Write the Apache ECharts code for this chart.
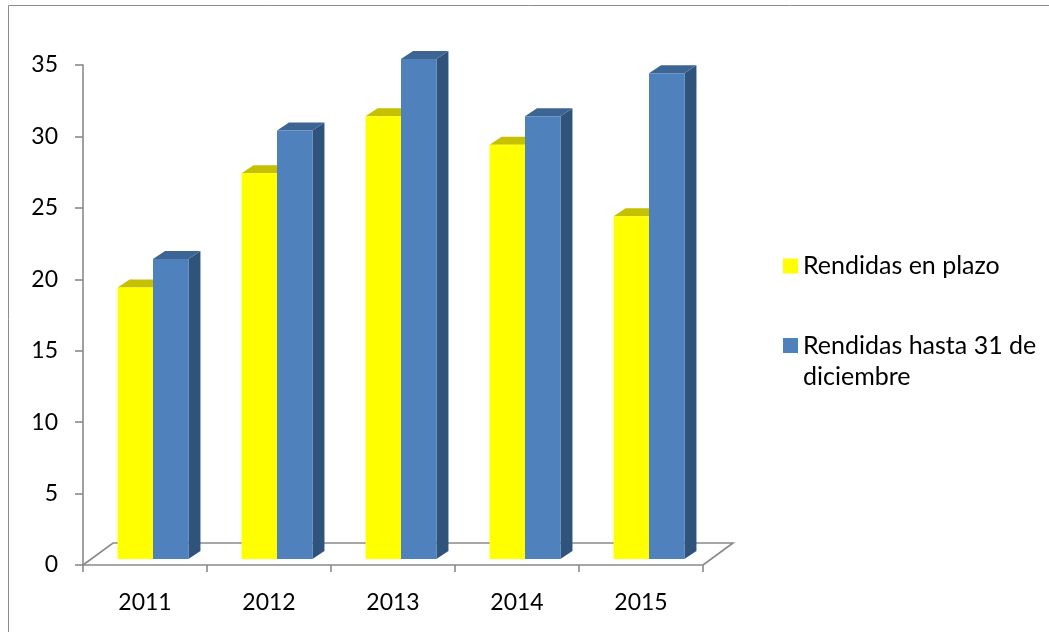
<!DOCTYPE html>
<html>
<head>
<meta charset="utf-8">
<script src="https://cdn.jsdelivr.net/npm/echarts@6/dist/echarts.min.js"></script>
<style>
html,body{margin:0;padding:0;background:#fff;}
#chart{width:1049px;height:632px;}
</style>
</head>
<body>
<div id="chart"></div>
<script>
// ---- data ----
const years = ['2011', '2012', '2013', '2014', '2015'];
const enPlazo = [19, 27, 31, 29, 24];
const hasta31 = [21, 30, 35, 31, 34];
const seriesNames = ['Rendidas en plazo', 'Rendidas hasta 31 de diciembre'];
const yTicks = { min: 0, max: 35, interval: 5 };

// ---- styling ----
const FONT = 'Lato';
const palette = [
  { front: '#FFFF00', top: '#C5C000', side: '#B8B400' },
  { front: '#4F81BD', top: '#3C6594', side: '#30537C' }
];
const FLOOR = { dx: 30, dy: -22 };   // floor depth (pixels)
const BAR_FRONT = { dx: 8, dy: -6 }; // bar front plane offset inside floor
const BAR_DEPTH = { dx: 12, dy: -8 }; // bar depth

function barRenderer(sIdx) {
  return function (params, api) {
    const cat = api.value(0);
    const val = api.value(1);
    const catW = api.size([1, 0])[0];
    const barW = catW * 0.286;
    const b = api.coord([cat, 0]);
    const t = api.coord([cat, val]);
    const x0 = b[0] - barW + sIdx * barW + BAR_FRONT.dx;
    const x1 = x0 + barW;
    const yb = b[1] + BAR_FRONT.dy;
    const yt = t[1] + BAR_FRONT.dy;
    const c = palette[sIdx];
    return {
      type: 'group',
      children: [
        { type: 'polygon', shape: { points: [[x1, yt], [x1, yb], [x1 + BAR_DEPTH.dx, yb + BAR_DEPTH.dy], [x1 + BAR_DEPTH.dx, yt + BAR_DEPTH.dy]] }, style: { fill: c.side } },
        { type: 'polygon', shape: { points: [[x0, yt], [x1, yt], [x1 + BAR_DEPTH.dx, yt + BAR_DEPTH.dy], [x0 + BAR_DEPTH.dx, yt + BAR_DEPTH.dy]] }, style: { fill: c.top } },
        { type: 'rect', shape: { x: x0, y: yt, width: barW, height: yb - yt }, style: { fill: c.front } }
      ]
    };
  };
}

function floorRenderer(params, api) {
  const catW = api.size([1, 0])[0];
  const p = api.coord([0, 0]);
  const left = p[0] - catW / 2;
  const right = left + catW * years.length;
  const y = p[1];
  return {
    type: 'polyline',
    shape: { points: [[left, y], [left + FLOOR.dx, y + FLOOR.dy], [right + FLOOR.dx, y + FLOOR.dy], [right, y]] },
    style: { stroke: '#8A8A8A', lineWidth: 1.6, fill: null }
  };
}

const chart = echarts.init(document.getElementById('chart'));
const legendText = { fontFamily: FONT, fontSize: 25, color: '#000' };
chart.setOption({
  animation: false,
  backgroundColor: '#fff',
  textStyle: { fontFamily: FONT },
  graphic: [{
    type: 'rect', silent: true, z: 100,
    shape: { x: 8.5, y: 5.5, width: 1100, height: 700 },
    style: { fill: null, stroke: '#8C8C8C', lineWidth: 1 }
  }],
  grid: { left: 83, right: 346, top: 65, bottom: 67, containLabel: false },
  legend: [
    {
      data: [seriesNames[0]], left: 778, top: 248, orient: 'vertical',
      icon: 'rect', itemWidth: 15, itemHeight: 15,
      textStyle: Object.assign({ lineHeight: 26 }, legendText)
    },
    {
      data: [seriesNames[1]], left: 778, top: 294, orient: 'vertical',
      icon: 'rect', itemWidth: 15, itemHeight: 15,
      formatter: function () { return ' \nRendidas hasta 31 de\ndiciembre'; },
      textStyle: Object.assign({ lineHeight: 31 }, legendText)
    }
  ],
  xAxis: {
    type: 'category', data: years, boundaryGap: true,
    axisLine: { show: true, lineStyle: { color: '#8A8A8A', width: 1.6 } },
    axisTick: { show: true, length: 7, lineStyle: { color: '#8A8A8A', width: 1.6 } },
    axisLabel: { fontFamily: FONT, fontSize: 23, color: '#000', margin: 26 },
    splitLine: { show: false }
  },
  yAxis: {
    type: 'value', min: yTicks.min, max: yTicks.max, interval: yTicks.interval,
    axisLine: { show: true, lineStyle: { color: '#8A8A8A', width: 1.6 } },
    axisTick: { show: true, length: 8, lineStyle: { color: '#8A8A8A', width: 1.6 } },
    axisLabel: { fontFamily: FONT, fontSize: 23, color: '#000', margin: 25 },
    splitLine: { show: false }
  },
  series: [
    {
      name: 'floor', type: 'custom', renderItem: floorRenderer, data: [[0, 0]],
      clip: false, silent: true, z: 1
    },
    {
      name: seriesNames[0], type: 'custom', renderItem: barRenderer(0), clip: false, z: 2,
      itemStyle: { color: palette[0].front },
      data: years.map((y, i) => [i, enPlazo[i]])
    },
    {
      name: seriesNames[1], type: 'custom', renderItem: barRenderer(1), clip: false, z: 3,
      itemStyle: { color: palette[1].front },
      data: years.map((y, i) => [i, hasta31[i]])
    }
  ]
});
</script>
</body>
</html>
